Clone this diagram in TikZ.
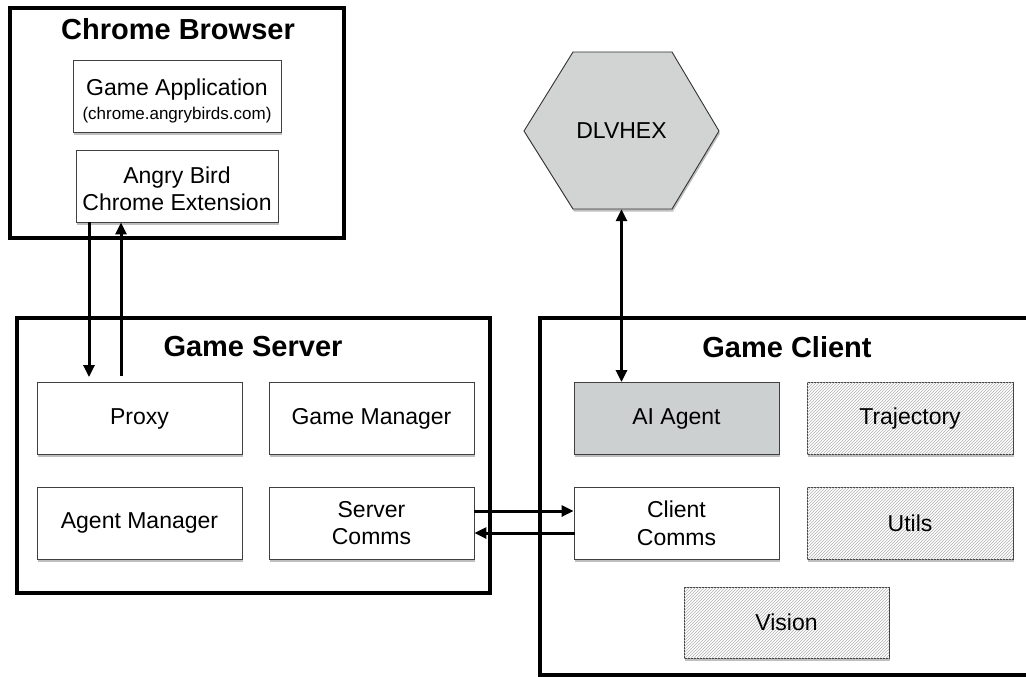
\documentclass[tikz,border=0pt]{standalone}
\usepackage{fontspec}
\setmainfont{Liberation Sans}
\usetikzlibrary{shadows,patterns,arrows.meta,calc}
\definecolor{aigray}{RGB}{205,208,208}
\definecolor{hexgray}{RGB}{210,211,211}
\begin{document}
\begin{tikzpicture}[x=1pt,y=-1pt,
  container/.style={draw=black, line width=3.6pt, fill=white, inner sep=0pt,
    drop shadow={shadow xshift=1.5pt, shadow yshift=-2pt, opacity=0.35}},
  box/.style={draw=black!75, line width=0.9pt, fill=white, minimum width=205pt,
    minimum height=72pt, align=center, inner sep=0pt,
    font=\fontsize{23}{27.6}\selectfont,
    drop shadow={shadow xshift=1pt, shadow yshift=-2.5pt, opacity=0.5}},
  hatched/.style={box, postaction={pattern=north east lines, pattern color=black!30}},
  title/.style={font=\fontsize{29}{34}\selectfont\bfseries},
  arr/.style={line width=3pt, -{Triangle[length=12pt,width=11pt]}},
  darr/.style={line width=3pt, {Triangle[length=12pt,width=11pt]}-{Triangle[length=12pt,width=11pt]}},
]
\useasboundingbox (0,0) rectangle (1026,677);
\clip (0,0) rectangle (1026,677);

% containers
\node[container, minimum width=334pt, minimum height=230pt] (chrome) at (177,123) {};
\node[container, minimum width=473pt, minimum height=275pt] (gs) at (253.5,455.5) {};
\node[container, minimum width=500pt, minimum height=357pt] (gc) at (790,496.5) {};

\node[title] (chromet) at (178,29) {Chrome Browser};
\node[title] (gst) at (253,347) {Game Server};
\node[title] (gct) at (787,347) {Game Client};

% chrome boxes
\node[box, minimum width=208pt] (ga) at (177,96) {\rule{0pt}{26pt}Game Application\\[-4pt]{\fontsize{17}{20}\selectfont (chrome.angrybirds.com)}};
\node[box, minimum width=202pt] (ab) at (177,186) {\rule{0pt}{22pt}Angry Bird\\Chrome Extension};

% server boxes
\node[box] (proxy) at (139.5,418.5) {Proxy};
\node[box] (gm) at (371.5,418.5) {Game Manager};
\node[box] (am) at (139.5,523) {Agent Manager};
\node[box] (sc) at (371.5,523) {Server\\Comms};

% client boxes
\node[box, fill=aigray] (ai) at (676.5,418.5) {AI Agent};
\node[hatched, minimum width=206pt] (traj) at (910,418.5) {Trajectory};
\node[box] (cc) at (676.5,523) {Client\\Comms};
\node[hatched, minimum width=206pt] (utils) at (910,523) {Utils};
\node[hatched, minimum height=71pt] (vision) at (786.5,622.5) {Vision};

% DLVHEX hexagon
\filldraw[fill=hexgray, draw=black!80, line width=0.9pt,
  drop shadow={shadow xshift=1pt, shadow yshift=-2.5pt, opacity=0.5}]
  (573,52) -- (672,52) -- (719,131) -- (672,209) -- (573,209) -- (524,131) -- cycle;
\node[minimum width=195pt, minimum height=157pt, inner sep=0pt,
  font=\fontsize{23}{27.6}\selectfont] (dlv) at (621.5,130.5) {DLVHEX};

% connectors
\draw[arr, shorten >=5pt] (ab.south -| 89,0) -- (proxy.north -| 89,0);
\draw[arr, shorten <=6pt] (proxy.north -| 121,0) -- (ab.south -| 121,0);
\draw[darr] (dlv.south) -- (dlv.south |- ai.north);
\draw[arr] (sc.east |- 0,511) -- (cc.west |- 0,511);
\draw[arr, shorten <=-1pt] (cc.west |- 0,533) -- (sc.east |- 0,533);
\end{tikzpicture}
\end{document}
